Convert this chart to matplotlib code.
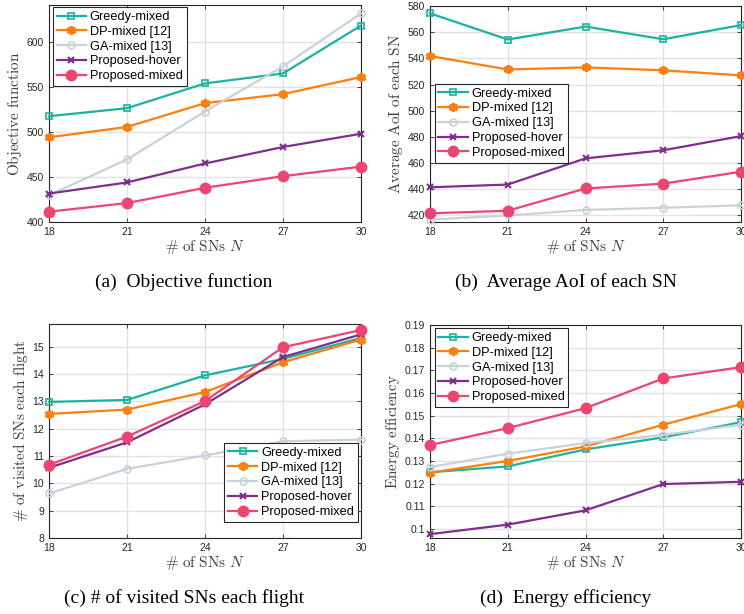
import matplotlib
matplotlib.use("Agg")
import matplotlib.pyplot as plt

plt.rcParams['mathtext.fontset'] = 'cm'
plt.rcParams['font.family'] = ['Liberation Sans', 'DejaVu Sans']

x_vals = [18, 21, 24, 27, 30]
series_names = ['Greedy-mixed', 'DP-mixed [12]', 'GA-mixed [13]', 'Proposed-hover', 'Proposed-mixed']

# (a) Objective function
obj_greedy = [517.5, 526.4, 553.9, 565.0, 618.2]
obj_dp = [494.0, 505.6, 532.0, 542.0, 561.0]
obj_ga = [429.7, 469.5, 522.7, 572.9, 631.6]
obj_hover = [431.6, 443.9, 465.0, 483.3, 498.0]
obj_mixed = [411.5, 421.0, 438.0, 450.9, 461.5]

# (b) Average AoI of each SN
aoi_greedy = [574.4, 554.4, 564.3, 554.6, 565.4]
aoi_dp = [541.8, 531.5, 533.1, 530.9, 527.0]
aoi_ga = [416.8, 420.0, 424.2, 425.9, 427.7]
aoi_hover = [441.5, 443.6, 463.6, 469.8, 480.6]
aoi_mixed = [421.6, 423.6, 440.6, 444.3, 453.4]

# (c) # of visited SNs each flight
vis_greedy = [12.98, 13.05, 13.95, 14.55, 15.32]
vis_dp = [12.54, 12.70, 13.34, 14.43, 15.26]
vis_ga = [9.63, 10.53, 11.02, 11.54, 11.60]
vis_hover = [10.57, 11.50, 12.89, 14.62, 15.45]
vis_mixed = [10.68, 11.71, 13.01, 14.98, 15.61]

# (d) Energy efficiency
ee_greedy = [0.1250, 0.1276, 0.1351, 0.1404, 0.1471]
ee_dp = [0.1248, 0.1300, 0.1364, 0.1460, 0.1551]
ee_ga = [0.1273, 0.1332, 0.1379, 0.1415, 0.1460]
ee_hover = [0.0977, 0.1019, 0.1082, 0.1198, 0.1208]
ee_mixed = [0.1370, 0.1445, 0.1533, 0.1664, 0.1714]

colors = ['#1ab3a0', '#ff7f0e', '#c8d2da', '#7e2f8e', '#ee4472']
styles = [
    dict(marker='s', markersize=4.8, markerfacecolor='none', markeredgewidth=1.2),
    dict(marker=(6, 2, 0), markersize=6.5, markeredgewidth=2.2),
    dict(marker='o', markersize=5, markerfacecolor='none', markeredgewidth=1.2),
    dict(marker='x', markersize=4.5, markeredgewidth=1.5),
    dict(marker='o', markersize=7.5),
]

fig = plt.figure(figsize=(7.44, 6.14), dpi=100)
W, H = 744, 614

def add_axes(l, t, r, b):
    return fig.add_axes([l / W, 1 - b / H, (r - l) / W, (b - t) / H])

panels = [
    dict(rect=(49, 5, 361, 222), data=[obj_greedy, obj_dp, obj_ga, obj_hover, obj_mixed],
         ylim=(400, 641), yticks=[400, 450, 500, 550, 600], yfmt='{:g}',
         ylabel=r'$\mathrm{Objective\ function}$',
         leg=dict(loc='upper left', bbox_to_anchor=(0.012, 0.99)),
         caption='(a)  Objective function', cap=(184, 282)),
    dict(rect=(430, 6, 741, 222), data=[aoi_greedy, aoi_dp, aoi_ga, aoi_hover, aoi_mixed],
         ylim=(415, 580), yticks=list(range(420, 581, 20)), yfmt='{:g}',
         ylabel=r'$\mathrm{Average\ AoI\ of\ each\ SN}$',
         leg=dict(loc='upper left', bbox_to_anchor=(0.015, 0.64)),
         caption='(b)  Average AoI of each SN', cap=(566, 282)),
    dict(rect=(49, 324, 361, 538), data=[vis_greedy, vis_dp, vis_ga, vis_hover, vis_mixed],
         ylim=(8, 15.83), yticks=list(range(8, 16)), yfmt='{:g}',
         ylabel=r'$\mathrm{\#\ of\ visited\ SNs\ each\ flight}$',
         leg=dict(loc='lower right', bbox_to_anchor=(0.99, 0.075)),
         caption='(c) # of visited SNs each flight', cap=(184, 598)),
    dict(rect=(430, 325, 741, 538), data=[ee_greedy, ee_dp, ee_ga, ee_hover, ee_mixed],
         ylim=(0.096, 0.19), yticks=[0.1, 0.11, 0.12, 0.13, 0.14, 0.15, 0.16, 0.17, 0.18, 0.19],
         yfmt='{:g}',
         ylabel=r'$\mathrm{Energy\ efficiency}$',
         leg=dict(loc='upper left', bbox_to_anchor=(0.015, 0.985)),
         caption='(d)  Energy efficiency', cap=(566, 598)),
]

for p in panels:
    ax = add_axes(*p['rect'])
    for name, ys, c, st in zip(series_names, p['data'], colors, styles):
        kw = dict(st)
        ax.plot(x_vals, ys, color=c, linewidth=1.6, label=name, markeredgecolor=c,
                clip_on=False, zorder=3, **kw)
    ax.set_xlim(18, 30)
    ax.set_xticks(x_vals)
    ax.set_ylim(*p['ylim'])
    ax.set_yticks(p['yticks'])
    ax.set_yticklabels([p['yfmt'].format(v) for v in p['yticks']])
    ax.grid(True, color='#e3e3e3', linewidth=1.0)
    ax.set_axisbelow(True)
    ax.tick_params(direction='in', length=3, labelsize=7.5, colors='#262626', width=0.6,
                   top=True, right=True)
    for s in ax.spines.values():
        s.set_color('#262626')
        s.set_linewidth(0.8)
    ax.set_xlabel(r'$\mathrm{\#\ of\ SNs}\ N$', fontsize=11, color='#404040', labelpad=1)
    ax.set_ylabel(p['ylabel'], fontsize=11, color='#404040', labelpad=2)
    leg = ax.legend(fontsize=9.2, frameon=True, fancybox=False, edgecolor='#262626',
                    framealpha=1, borderpad=0.3, labelspacing=0.22, handlelength=2.3,
                    handletextpad=0.3, borderaxespad=0, **p['leg'])
    leg.get_frame().set_linewidth(0.8)
    fig.text(p['cap'][0] / W, 1 - p['cap'][1] / H, p['caption'], ha='center', va='center',
             fontsize=14, family='Liberation Serif')

fig.savefig('out.png', dpi=100)
